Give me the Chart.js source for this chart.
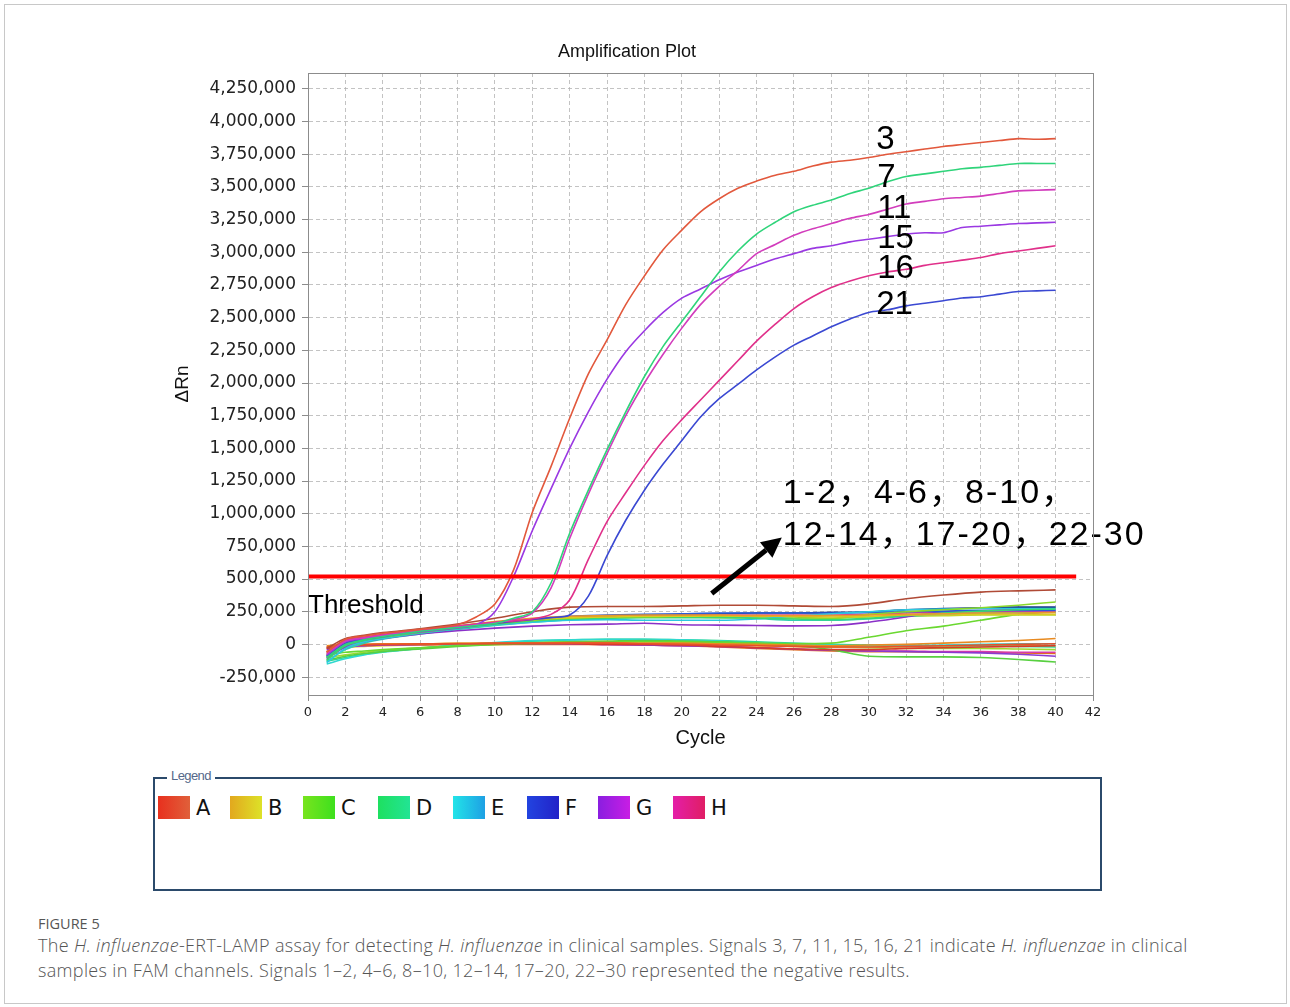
<!DOCTYPE html>
<html>
<head>
<meta charset="utf-8">
<script src="https://cdn.jsdelivr.net/npm/chart.js@4.4.1/dist/chart.umd.min.js"></script>
<style>
  body { margin: 0; background: #fff; width: 1290px; height: 1007px; position: relative; overflow: hidden; }
  #frame { position: absolute; left: 4px; top: 4px; width: 1283px; height: 1000px; border: 1px solid #c8c8c8; box-sizing: border-box; }
  #plotWrap { position: absolute; left: 94px; top: 20px; width: 1066px; height: 740px; }
  #legendBox { position: absolute; left: 153px; top: 777px; width: 949px; height: 114px; border: 2px solid #2b4a6b; box-sizing: border-box; }
  #legendTitle { position: absolute; left: 167px; top: 768px; background: #fff; padding: 0 4px; font: 13px "Liberation Sans", sans-serif; color: #55688a; letter-spacing: -0.6px; }
  .sw { position: absolute; top: 796px; width: 32px; height: 23px; }
  .lab { position: absolute; top: 796px; font: 21px "DejaVu Sans", sans-serif; color: #111; line-height: 24px; }
  #figLabel { position: absolute; left: 38px; top: 914px; font: 400 14.5px "Open Sans", sans-serif; color: #555; }
  #caption { position: absolute; left: 38px; top: 933px; width: 1240px; font: 300 18px/25px "Open Sans", sans-serif; letter-spacing: 0.35px; color: #555; white-space: nowrap; }
</style>
</head>
<body>
<div id="frame"></div>
<div id="plotWrap"><canvas id="ampChart" width="1066" height="740"></canvas></div>

<div id="legendBox"></div>
<div id="legendTitle">Legend</div>
<div id="legendItems"></div>

<div id="figLabel">FIGURE 5</div>
<div id="caption">The <i>H. influenzae</i>-ERT-LAMP assay for detecting <i>H. influenzae</i> in clinical samples. Signals 3, 7, 11, 15, 16, 21 indicate <i>H. influenzae</i> in clinical<br>samples in FAM channels. Signals 1–2, 4–6, 8–10, 12–14, 17–20, 22–30 represented the negative results.</div>

<script>
/* Amplification plot: positive wells, negative wells, threshold */

// cycles for the positive wells (every cycle)
const cycles = [1, 2, 3, 4, 5, 6, 7, 8, 9, 10, 11, 12, 13, 14, 15, 16, 17, 18, 19, 20,
  21, 22, 23, 24, 25, 26, 27, 28, 29, 30, 31, 32, 33, 34, 35, 36, 37, 38, 39, 40];

// ΔRn in thousands
const well3 = [-60, 40, 65, 85, 100, 115, 130, 150, 210, 310, 570, 1010, 1360, 1730, 2070, 2330, 2600, 2820, 3020, 3170,
  3310, 3410, 3490, 3545, 3590, 3620, 3660, 3690, 3705, 3725, 3750, 3770, 3790, 3810, 3825, 3840, 3855, 3870, 3865, 3870];
const well7 = [-100, 0, 35, 60, 80, 100, 115, 130, 145, 160, 200, 250, 470, 850, 1180, 1490, 1780, 2050, 2280, 2470,
  2660, 2850, 3010, 3140, 3230, 3310, 3360, 3400, 3450, 3490, 3540, 3580, 3600, 3620, 3640, 3650, 3665, 3680, 3680, 3680];
const well11 = [-70, 25, 50, 70, 90, 105, 120, 135, 150, 165, 190, 240, 430, 810, 1150, 1460, 1750, 2000, 2220, 2420,
  2600, 2740, 2860, 2990, 3060, 3130, 3180, 3220, 3260, 3290, 3330, 3370, 3390, 3410, 3420, 3430, 3450, 3470, 3475, 3480];
const well15 = [-80, 20, 45, 65, 80, 95, 110, 125, 150, 250, 520, 870, 1190, 1500, 1780, 2030, 2240, 2400, 2540, 2650,
  2720, 2790, 2850, 2900, 2950, 2990, 3030, 3050, 3080, 3100, 3120, 3140, 3150, 3150, 3190, 3200, 3210, 3220, 3225, 3230];
const well16 = [-60, 30, 55, 75, 95, 110, 125, 140, 155, 170, 180, 195, 230, 340, 650, 940, 1160, 1370, 1560, 1720,
  1870, 2020, 2170, 2320, 2450, 2570, 2660, 2730, 2780, 2820, 2850, 2870, 2900, 2920, 2940, 2960, 2990, 3010, 3030, 3050];
const well21 = [-90, 10, 40, 60, 85, 100, 115, 130, 145, 160, 175, 190, 205, 225, 370, 680, 950, 1180, 1380, 1560,
  1740, 1880, 1990, 2100, 2200, 2290, 2360, 2430, 2490, 2540, 2560, 2590, 2610, 2630, 2650, 2660, 2680, 2700, 2705, 2710];

// cycles sampled for the flat (negative) wells
const negCycles = [1, 2, 3, 4, 6, 8, 10, 12, 14, 16, 18, 20, 22, 24, 26, 28, 30, 32, 34, 36, 38, 40];

// negative wells, upper band (thousands)
const neg01 = [-30, 45, 70, 90, 120, 155, 200, 250, 285, 290, 290, 295, 300, 300, 295, 290, 310, 350, 378, 400, 410, 417];
const neg02 = [-60, 30, 55, 75, 105, 140, 175, 200, 215, 220, 225, 225, 225, 220, 220, 220, 225, 230, 235, 240, 240, 245];
const neg03 = [-80, 20, 45, 65, 100, 135, 165, 190, 205, 210, 215, 215, 220, 215, 215, 210, 215, 225, 225, 230, 230, 230];
const neg04 = [-100, 10, 40, 60, 95, 130, 160, 185, 200, 210, 210, 215, 215, 220, 210, 200, 230, 250, 265, 280, 300, 325];
const neg05 = [-120, -10, 30, 55, 90, 125, 155, 180, 195, 200, 205, 205, 205, 200, 195, 190, 200, 220, 240, 255, 265, 270];
const neg06 = [-140, -30, 20, 45, 85, 120, 150, 170, 185, 190, 185, 185, 185, 195, 215, 235, 250, 265, 270, 275, 275, 275];
const neg07 = [-90, 0, 35, 60, 100, 130, 160, 185, 215, 225, 230, 235, 240, 240, 240, 240, 245, 250, 255, 260, 260, 260];
const neg08 = [-110, -20, 20, 45, 80, 105, 125, 140, 150, 155, 162, 150, 148, 145, 142, 145, 170, 210, 250, 260, 265, 265];
const neg09 = [-70, 25, 50, 70, 110, 140, 170, 195, 210, 215, 220, 225, 225, 225, 225, 225, 230, 240, 245, 250, 255, 255];
const neg10 = [-130, -40, 10, 40, 80, 115, 145, 170, 190, 200, 210, 215, 215, 200, 185, 185, 195, 215, 230, 240, 245, 250];
const neg11 = [-100, -5, 30, 55, 95, 130, 165, 190, 205, 215, 220, 225, 235, 240, 240, 245, 250, 265, 275, 280, 285, 285];
const neg12 = [-60, 15, 45, 70, 105, 140, 170, 190, 200, 205, 210, 210, 205, 205, 200, 200, 210, 215, 220, 225, 225, 225];
// negative wells, lower band (thousands)
const neg13 = [-20, -5, 0, 0, 5, 5, 10, 10, 10, 10, 5, 0, -5, -10, -15, -20, -20, -15, -10, -5, 0, 5];
const neg14 = [-10, 0, 0, 5, 5, 10, 10, 10, 15, 15, 10, 10, 5, 0, -5, -10, -5, 0, 10, 20, 30, 45];
const neg15 = [-30, -10, -5, 0, 0, 5, 5, 5, 5, 0, 0, -5, -15, -25, -35, -40, -40, -30, -25, -20, -15, -10];
const neg16 = [-80, -60, -50, -40, -25, -10, 0, 5, 10, 15, 20, 20, 15, 10, 5, 10, 55, 105, 140, 185, 230, 250];
const neg17 = [-120, -90, -70, -55, -35, -15, 0, 10, 20, 25, 30, 25, 20, 10, -10, -40, -90, -95, -95, -100, -115, -135];
const neg18 = [-150, -110, -80, -60, -30, -5, 15, 30, 35, 40, 40, 35, 25, 10, 0, -5, -10, -10, -5, 0, 5, 5];
const neg19 = [-130, -100, -75, -55, -30, -5, 10, 25, 35, 40, 40, 35, 30, 20, 10, 0, -5, -5, -10, -10, -15, -20];
const neg20 = [-40, -20, -10, -5, 0, 5, 5, 5, 5, 0, -5, -10, -15, -25, -35, -45, -50, -55, -60, -65, -75, -90];
const neg21 = [-30, -15, -10, -5, 0, 0, 5, 5, 5, 0, -5, -10, -15, -25, -35, -45, -50, -50, -55, -55, -60, -60];
const neg22 = [-50, -25, -15, -10, -5, 0, 0, 5, 5, 5, 0, 0, -5, -10, -15, -20, -20, -15, -15, -10, -10, -10];
const neg23 = [-100, -80, -60, -45, -25, -10, 5, 15, 20, 20, 20, 15, 10, 0, -10, -20, -25, -30, -30, -30, -35, -40];
const neg24 = [-20, -10, -5, 0, 0, 0, 0, 0, 0, 0, -5, -10, -20, -30, -40, -50, -55, -55, -60, -60, -65, -70];

// threshold
const thresholdLevel = 520000;
const thresholdSpan = [0, 41.1];

// axis ticks
const xTickValues = [0, 2, 4, 6, 8, 10, 12, 14, 16, 18, 20, 22, 24, 26, 28, 30, 32, 34, 36, 38, 40, 42];
const yTickValues = [-250000, 0, 250000, 500000, 750000, 1000000, 1250000, 1500000, 1750000, 2000000,
  2250000, 2500000, 2750000, 3000000, 3250000, 3500000, 3750000, 4000000, 4250000];

// legend rows
const legendRows = ["A", "B", "C", "D", "E", "F", "G", "H"];
const legendColors = [
  ["#e8301e", "#e0603a"], ["#e2a81e", "#dde228"], ["#78e41e", "#3ee01e"], ["#1ee060", "#22e494"],
  ["#22e4e8", "#1ea0e4"], ["#2244e0", "#2222c8"], ["#8a1ee0", "#c81ee4"], ["#e41ea8", "#e01e64"],
];

const positives = [
  { name: "3", data: well3, color: "#e2583c" },
  { name: "7", data: well7, color: "#2fd47a" },
  { name: "11", data: well11, color: "#d23cbc" },
  { name: "15", data: well15, color: "#9a38e2" },
  { name: "16", data: well16, color: "#e0308a" },
  { name: "21", data: well21, color: "#3a48d2" },
];

const negatives = [
  [neg01, "#b04a36"], [neg02, "#e89a2a"], [neg03, "#d8cc20"], [neg04, "#8ad82a"],
  [neg05, "#3ad870"], [neg06, "#2ac8e0"], [neg07, "#2a5ad8"], [neg08, "#8a30c8"],
  [neg09, "#d83aa0"], [neg10, "#30d0b0"], [neg11, "#1a3a8a"], [neg12, "#b8d830"],
  [neg13, "#e8502a"], [neg14, "#e88a20"], [neg15, "#d83a2a"], [neg16, "#6ad830"],
  [neg17, "#58d040"], [neg18, "#30d8d0"], [neg19, "#30d890"], [neg20, "#8a3ad0"],
  [neg21, "#d83aa8"], [neg22, "#e0c020"], [neg23, "#a0d830"], [neg24, "#e06a20"],
];

function toPoints(xs, ys) {
  return xs.map((x, i) => ({ x, y: ys[i] * 1000 }));
}

function buildLegend() {
  const holder = document.getElementById("legendItems");
  const swLeft = [158, 230, 303, 378, 453, 527, 598, 673];
  legendRows.forEach((row, i) => {
    const sw = document.createElement("div");
    sw.className = "sw";
    sw.style.left = swLeft[i] + "px";
    sw.style.background = `linear-gradient(90deg, ${legendColors[i][0]}, ${legendColors[i][1]})`;
    const lab = document.createElement("div");
    lab.className = "lab";
    lab.style.left = swLeft[i] + 38 + "px";
    lab.textContent = row;
    holder.appendChild(sw);
    holder.appendChild(lab);
  });
}

// outer frame of the plot area (top and right sides)
const framePlugin = {
  id: "frame",
  afterDraw(chart) {
    const { ctx, chartArea: a } = chart;
    ctx.save();
    ctx.strokeStyle = "#8c8c8c";
    ctx.lineWidth = 1;
    ctx.strokeRect(a.left + 0.5, a.top + 0.5, a.right - a.left, a.bottom - a.top);
    ctx.restore();
  },
};

// numbers next to the positive curves, threshold caption and the arrow
const notes = {
  curveLabels: [
    { text: "3", x: 30.4, y: 3860000 },
    { text: "7", x: 30.45, y: 3570000 },
    { text: "11", x: 30.45, y: 3333000 },
    { text: "15", x: 30.45, y: 3104000 },
    { text: "16", x: 30.45, y: 2875000 },
    { text: "21", x: 30.4, y: 2600000 },
  ],
  threshold: { text: "Threshold", x: 0, y: 298000 },
  negLines: [
    { text: "1-2，4-6，8-10，", x: 25.4, y: 1154000 },
    { text: "12-14，17-20，22-30", x: 25.4, y: 833000 },
  ],
  arrow: { from: [21.6, 390000], to: [25.35, 818000] },
};

const notesPlugin = {
  id: "notes",
  afterDatasetsDraw(chart) {
    const { ctx } = chart;
    const xs = chart.scales.x;
    const ys = chart.scales.y;
    ctx.save();
    ctx.fillStyle = "#000";
    ctx.textBaseline = "middle";
    ctx.textAlign = "left";

    ctx.font = '33px "Liberation Sans", Arial, sans-serif';
    notes.curveLabels.forEach((l) => {
      ctx.fillText(l.text, xs.getPixelForValue(l.x), ys.getPixelForValue(l.y));
    });

    ctx.font = '26px "Liberation Sans", Arial, sans-serif';
    ctx.fillText(notes.threshold.text, xs.getPixelForValue(notes.threshold.x), ys.getPixelForValue(notes.threshold.y));

    ctx.font = '34px "Liberation Sans", "Noto Sans CJK SC", sans-serif';
    ctx.letterSpacing = "2px";
    notes.negLines.forEach((l) => {
      ctx.fillText(l.text, xs.getPixelForValue(l.x), ys.getPixelForValue(l.y));
    });
    ctx.letterSpacing = "0px";

    // arrow
    const x1 = xs.getPixelForValue(notes.arrow.from[0]);
    const y1 = ys.getPixelForValue(notes.arrow.from[1]);
    const x2 = xs.getPixelForValue(notes.arrow.to[0]);
    const y2 = ys.getPixelForValue(notes.arrow.to[1]);
    const ang = Math.atan2(y2 - y1, x2 - x1);
    const head = 20;
    const bx = x2 - head * Math.cos(ang);
    const by = y2 - head * Math.sin(ang);
    ctx.strokeStyle = "#000";
    ctx.lineWidth = 5;
    ctx.beginPath();
    ctx.moveTo(x1, y1);
    ctx.lineTo(bx, by);
    ctx.stroke();
    ctx.beginPath();
    ctx.moveTo(x2, y2);
    ctx.lineTo(bx + 10 * Math.sin(ang), by - 10 * Math.cos(ang));
    ctx.lineTo(bx - 10 * Math.sin(ang), by + 10 * Math.cos(ang));
    ctx.closePath();
    ctx.fill();
    ctx.restore();
  },
};

function buildChart(ctx) {
  const datasets = [];

  datasets.push({
    label: "Threshold",
    data: thresholdSpan.map((x) => ({ x, y: thresholdLevel })),
    borderColor: "#ff0000",
    borderWidth: 4,
    pointRadius: 0,
    order: 0,
  });

  positives.forEach((p) => {
    datasets.push({
      label: p.name,
      data: toPoints(cycles, p.data),
      borderColor: p.color,
      borderWidth: 1.6,
      pointRadius: 0,
      tension: 0.3,
      order: 1,
    });
  });

  negatives.forEach(([vals, color], i) => {
    datasets.push({
      label: "neg" + (i + 1),
      data: toPoints(negCycles, vals),
      borderColor: color,
      borderWidth: 1.6,
      pointRadius: 0,
      cubicInterpolationMode: "monotone",
      order: 2,
    });
  });

  const tickFont = { family: '"DejaVu Sans", sans-serif', size: 17 };
  const gridColor = "rgba(175, 175, 175, 0.75)";

  return new Chart(ctx, {
    type: "line",
    data: { datasets },
    options: {
      responsive: false,
      animation: false,
      events: [],
      layout: { padding: { left: 67, right: 67, top: 0, bottom: 0 } },
      plugins: {
        legend: { display: false },
        tooltip: { enabled: false },
        title: {
          display: true,
          text: "Amplification Plot",
          color: "#111",
          font: { family: '"Liberation Sans", Arial, sans-serif', size: 18, weight: "normal" },
          padding: { top: 21, bottom: 10.4 },
        },
      },
      scales: {
        x: {
          type: "linear",
          min: 0,
          max: 42,
          afterBuildTicks: (s) => { s.ticks = xTickValues.map((v) => ({ value: v })); },
          afterFit: (s) => { s.height = 65; },
          ticks: {
            autoSkip: false,
            maxRotation: 0,
            padding: 4,
            color: "#222",
            font: { family: '"DejaVu Sans", sans-serif', size: 13 },
          },
          grid: { color: gridColor, tickLength: 6, tickColor: "#8c8c8c" },
          border: { color: "#8c8c8c", dash: [4, 3] },
          title: {
            display: true,
            text: "Cycle",
            color: "#111",
            font: { family: '"Liberation Sans", Arial, sans-serif', size: 20 },
            padding: { top: 0, bottom: 10 },
          },
        },
        y: {
          type: "linear",
          min: -387000,
          max: 4372000,
          afterBuildTicks: (s) => { s.ticks = yTickValues.map((v) => ({ value: v })); },
          afterFit: (s) => { s.width = 147; },
          ticks: {
            padding: 6,
            color: "#222",
            font: tickFont,
            callback: (v) => v.toLocaleString("en-US"),
          },
          grid: { color: gridColor, tickLength: 6, tickColor: "#8c8c8c" },
          border: { color: "#8c8c8c", dash: [4, 3] },
          title: {
            display: true,
            text: "ΔRn",
            color: "#111",
            font: { family: '"Liberation Sans", Arial, sans-serif', size: 19 },
            padding: { top: 10, bottom: 0 },
          },
        },
      },
    },
    plugins: [framePlugin, notesPlugin],
  });
}

document.addEventListener("DOMContentLoaded", () => {
  buildLegend();
  const ctx = document.getElementById("ampChart").getContext("2d");
  try {
    buildChart(ctx);
  } catch (err) {
    console.error("Error building chart", err);
  }
});
</script>
</body>
</html>
